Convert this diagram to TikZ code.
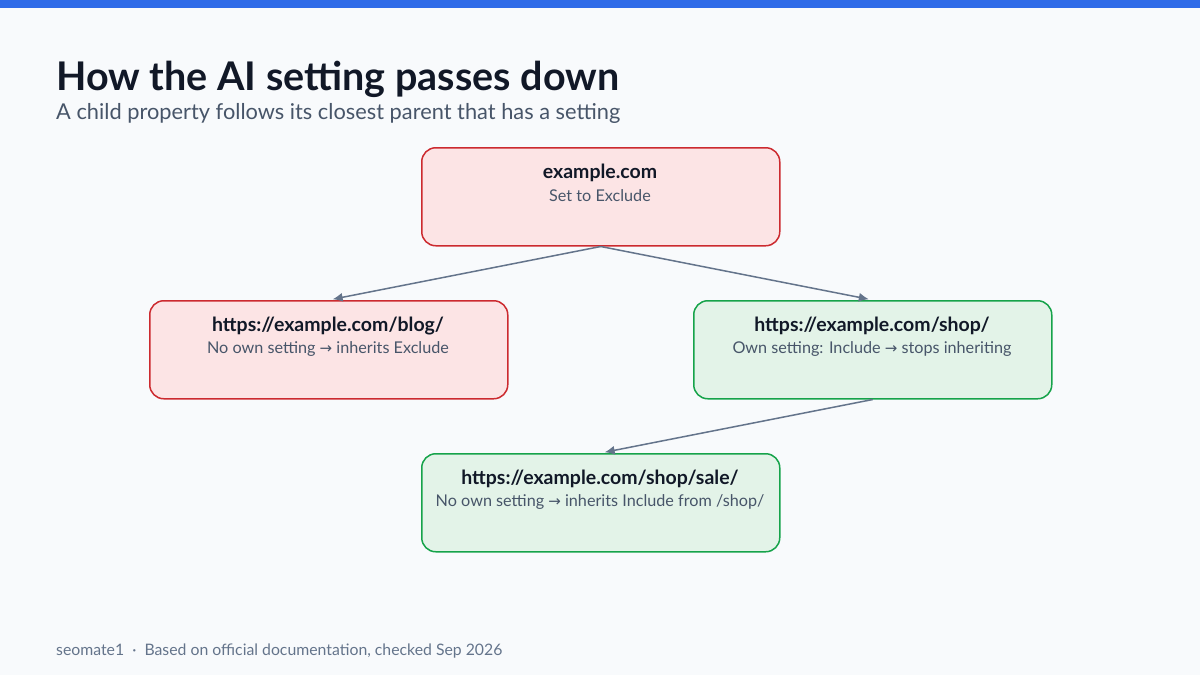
\documentclass[tikz,border=0pt]{standalone}
\usepackage{fontspec}
\setmainfont{Lato}
\newfontfamily\symfont{DejaVu Sans}
\usetikzlibrary{arrows.meta}
\definecolor{bg}{HTML}{F8FAFC}
\definecolor{topbar}{HTML}{2F6BE8}
\definecolor{ink}{HTML}{111827}
\definecolor{sub}{HTML}{475569}
\definecolor{edge}{HTML}{64748B}
\definecolor{redfill}{HTML}{FCE4E5}
\definecolor{redline}{HTML}{CC2A2F}
\definecolor{greenfill}{HTML}{E3F3E8}
\definecolor{greenline}{HTML}{16A34A}
\newcommand{\arr}{{\symfont\fontsize{15}{17}\selectfont →}}
\tikzset{
  box/.style={draw, line width=1.5pt, rounded corners=14pt, minimum width=358pt, minimum height=98pt, anchor=north west},
  redbox/.style={box, fill=redfill, draw=redline},
  greenbox/.style={box, fill=greenfill, draw=greenline},
  head/.style={font=\bfseries\fontsize{19.5}{22}\selectfont, text=ink},
  note/.style={font=\fontsize{16.2}{18}\selectfont, text=sub},
  conn/.style={draw=edge, line width=1.5pt, -{Latex[length=10pt,width=9pt]}}
}
\begin{document}
\begin{tikzpicture}[x=1pt,y=-1pt]
\useasboundingbox (0,0) rectangle (1200,675);
\fill[bg] (0,0) rectangle (1200,675);
\fill[topbar] (0,0) rectangle (1200,8);
\node[anchor=base west, inner sep=0, text=ink, font=\bfseries\fontsize{39.5}{44}\selectfont] (title) at (56,90) {How the AI setting passes down};
\node[anchor=base west, inner sep=0, text=sub, font=\fontsize{21.8}{26}\selectfont] (subtitle) at (56,119) {A child property follows its closest parent that has a setting};

\node[redbox] (root) at (421,147) {};
\node[head] at (600,173) {example.com};
\node[note] at (600,196) {Set to Exclude};

\node[redbox] (blog) at (149,300) {};
\node[head] at (328,326) {https://example.com/blog/};
\node[note] at (328,349) {No own setting \arr\ inherits Exclude};

\node[greenbox] (shop) at (693,300) {};
\node[head] at (872,326) {https://example.com/shop/};
\node[note] at (872,349) {Own setting: Include \arr\ stops inheriting};

\node[greenbox] (sale) at (421,453) {};
\node[head] at (600,479) {https://example.com/shop/sale/};
\node[note] at (600,502) {No own setting \arr\ inherits Include from /shop/};

\draw[conn, shorten >=4pt] (root.south) -- (blog.north);
\draw[conn, shorten >=4pt] (root.south) -- (shop.north);
\draw[conn, shorten >=4pt] (shop.south) -- (sale.north);

\node[anchor=base west, inner sep=0, text=edge, font=\fontsize{15.8}{18}\selectfont] (foot) at (56,655) {seomate1 \ ·\ \ Based on official documentation, checked Sep 2026};
\end{tikzpicture}
\end{document}
